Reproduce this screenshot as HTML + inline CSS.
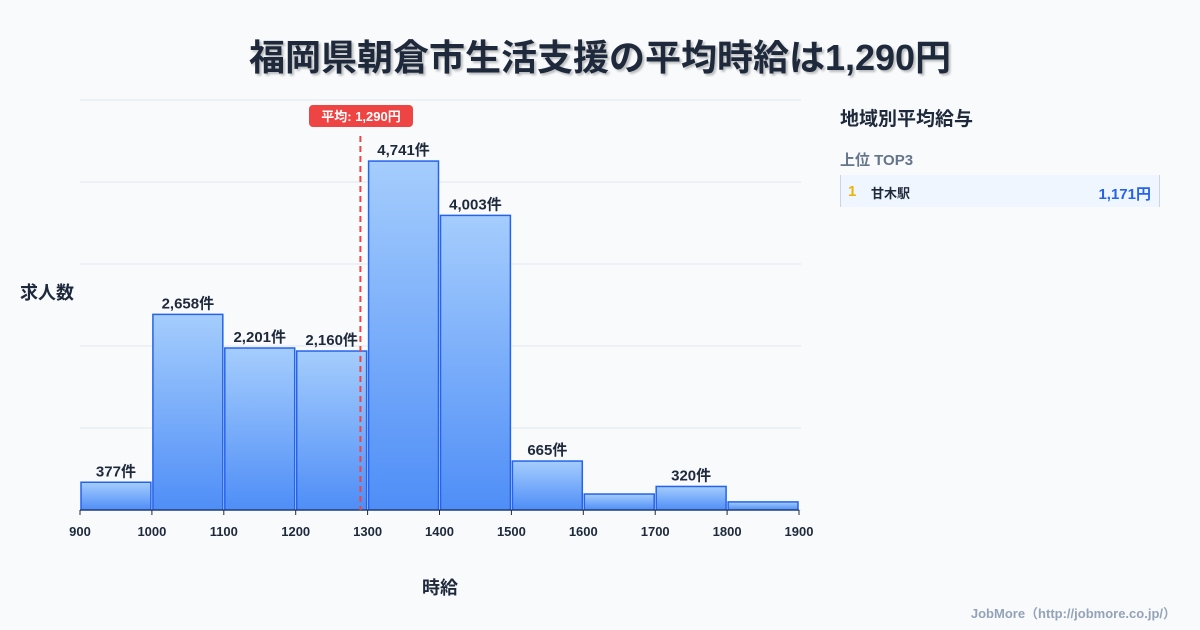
<!DOCTYPE html>
<html><head><meta charset="utf-8">
<style>
body{margin:0;background:#f8fafc;font-family:"Liberation Sans","Noto Sans CJK JP",sans-serif;}
#wrap{position:relative;width:1200px;height:630px;overflow:hidden;background:#f8fafc;}
#title{position:absolute;left:0;top:29px;width:1200px;text-align:center;font-size:36px;font-weight:bold;color:#1e293b;text-shadow:2px 2px 2px rgba(0,0,0,0.25);}
#panel-title{position:absolute;left:840px;top:104px;font-size:19px;font-weight:bold;color:#1e293b;}
#panel-sub{position:absolute;left:840px;top:149px;font-size:15px;font-weight:bold;color:#64748b;}
#row{position:absolute;left:840px;top:175px;width:320px;height:32px;background:#eff6ff;border-left:1px solid #cbd5e1;border-right:1px solid #cbd5e1;box-sizing:border-box;font-weight:bold;}
#footer{position:absolute;right:24px;top:603px;font-size:13px;font-weight:bold;color:#94a3b8;}
</style></head><body>
<div id="wrap">
<div id="title">福岡県朝倉市生活支援の平均時給は1,290円</div>
<svg id="chart" width="1200" height="630" style="position:absolute;left:0;top:0"></svg>
<div id="panel-title">地域別平均給与</div>
<div id="panel-sub">上位 TOP3</div>
<div id="row">
<span style="position:absolute;left:7px;top:8px;font-size:15px;color:#eab308">1</span>
<span style="position:absolute;left:30px;top:8px;font-size:13px;color:#1e293b">甘木駅</span>
<span style="position:absolute;right:8px;top:8px;font-size:15px;color:#2563eb">1,171円</span>
</div>
<div id="footer">JobMore（http://jobmore.co.jp/）</div>
</div>
<script>
const binStarts=[900,1000,1100,1200,1300,1400,1500,1600,1700,1800];
const counts=[377,2658,2201,2160,4741,4003,665,217,320,110];
const labels=["377件","2,658件","2,201件","2,160件","4,741件","4,003件","665件","","320件",""];
const xTicks=[900,1000,1100,1200,1300,1400,1500,1600,1700,1800,1900];
const avgWage=1290;
const avgLabel="平均: 1,290円";
const NS="http://www.w3.org/2000/svg";
const svg=document.getElementById('chart');
const x0=80,x1=799,yBase=510,yTop=100;
const xMin=900,xMax=1900,yMax=Math.max(...counts)*1.175;
const X=v=>x0+(v-xMin)/(xMax-xMin)*(x1-x0);
const Y=v=>yBase-v/yMax*(yBase-yTop);
function el(t,a,txt){const e=document.createElementNS(NS,t);for(const k in a)e.setAttribute(k,a[k]);if(txt!==undefined)e.textContent=txt;svg.appendChild(e);return e;}
const defs=document.createElementNS(NS,'defs');
defs.innerHTML='<linearGradient id="g" x1="0" y1="0" x2="0" y2="1"><stop offset="0" stop-color="#a5cdfd"/><stop offset="1" stop-color="#4f8ef7"/></linearGradient>';
svg.appendChild(defs);
for(let i=0;i<=5;i++){const y=yBase-i*(yBase-yTop)/5;const g=el('line',{x1:x0,x2:801,y1:y,y2:y,stroke:'#e2e8f0','stroke-width':1});

}
binStarts.forEach((b,i)=>{
const xa=X(b)+1,xb=X(b+100)-1,y=Y(counts[i]);
const r=el('rect',{x:xa,y:y,width:xb-xa,height:yBase-y,fill:'url(#g)',stroke:'#2563eb','stroke-width':1.5});


if(labels[i]){const t=el('text',{x:(xa+xb)/2,y:y-6,'text-anchor':'middle','font-size':15,'font-weight':'bold',fill:'#1e293b'},labels[i]);

}
});
const ax=el('line',{x1:x0,x2:x1,y1:yBase,y2:yBase,stroke:'#1e293b','stroke-width':1});


xTicks.forEach(v=>{
const tk=el('line',{x1:X(v),x2:X(v),y1:yBase,y2:yBase+5,stroke:'#1e293b'});


const t=el('text',{x:X(v),y:536,'text-anchor':'middle','font-size':13,'font-weight':'bold',fill:'#1e293b'},String(v));


});
const ax2=X(avgWage);
const al=el('line',{x1:ax2,x2:ax2,y1:136,y2:yBase,stroke:'#ef4444','stroke-width':2,'stroke-dasharray':'6,4'});


const ab=el('rect',{x:309,y:105,width:104,height:22,rx:4,fill:'#ef4444'});


const at=el('text',{x:361,y:121,'text-anchor':'middle','font-size':13,'font-weight':'bold',fill:'#fff'},avgLabel);


const yt=el('text',{x:20,y:299,'font-size':18,'font-weight':'bold',fill:'#1e293b'},'求人数');


const xt=el('text',{x:440,y:594,'text-anchor':'middle','font-size':18,'font-weight':'bold',fill:'#1e293b'},'時給');


</script>
</body></html>
